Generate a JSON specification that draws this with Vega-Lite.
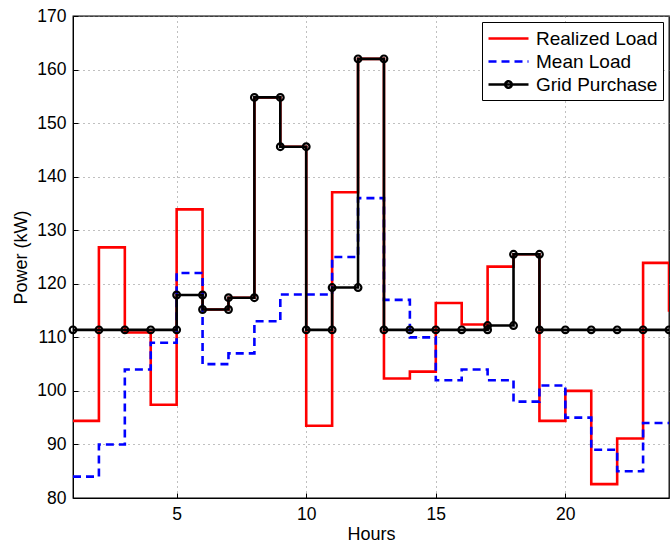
{
  "$schema": "https://vega.github.io/schema/vega-lite/v6.json",
  "width": 596,
  "height": 482,
  "autosize": {"type": "none"},
  "padding": {"left": 73, "top": 16, "right": 1, "bottom": 52},
  "background": "white",
  "config": {
    "font": "Liberation Sans",
    "view": {"stroke": "black", "strokeWidth": 1.3},
    "axis": {
      "domainColor": "black",
      "labelColor": "black",
      "titleColor": "black",
      "labelFontSize": 17.5,
      "titleFontSize": 18,
      "titleFontWeight": "normal",
      "gridColor": "#808080",
      "gridDash": [1, 4],
      "gridOpacity": 1,
      "gridWidth": 1,
      "ticks": true,
      "tickColor": "black",
      "tickSize": -5,
      "tickWidth": 1
    }
  },
  "datasets": {
    "loads": [
      {"hour": 1, "series": "Realized Load", "power": 94.4},
      {"hour": 2, "series": "Realized Load", "power": 126.8},
      {"hour": 3, "series": "Realized Load", "power": 110.9},
      {"hour": 4, "series": "Realized Load", "power": 97.4},
      {"hour": 5, "series": "Realized Load", "power": 133.9},
      {"hour": 6, "series": "Realized Load", "power": 115.2},
      {"hour": 7, "series": "Realized Load", "power": 117.4},
      {"hour": 8, "series": "Realized Load", "power": 154.8},
      {"hour": 9, "series": "Realized Load", "power": 145.6},
      {"hour": 10, "series": "Realized Load", "power": 93.5},
      {"hour": 11, "series": "Realized Load", "power": 137.1},
      {"hour": 12, "series": "Realized Load", "power": 162.0},
      {"hour": 13, "series": "Realized Load", "power": 102.3},
      {"hour": 14, "series": "Realized Load", "power": 103.6},
      {"hour": 15, "series": "Realized Load", "power": 116.4},
      {"hour": 16, "series": "Realized Load", "power": 112.4},
      {"hour": 17, "series": "Realized Load", "power": 123.2},
      {"hour": 18, "series": "Realized Load", "power": 125.5},
      {"hour": 19, "series": "Realized Load", "power": 94.4},
      {"hour": 20, "series": "Realized Load", "power": 100.0},
      {"hour": 21, "series": "Realized Load", "power": 82.6},
      {"hour": 22, "series": "Realized Load", "power": 91.1},
      {"hour": 23, "series": "Realized Load", "power": 123.9},
      {"hour": 24, "series": "Realized Load", "power": 114.8},
      {"hour": 1, "series": "Mean Load", "power": 84},
      {"hour": 2, "series": "Mean Load", "power": 90},
      {"hour": 3, "series": "Mean Load", "power": 104},
      {"hour": 4, "series": "Mean Load", "power": 109},
      {"hour": 5, "series": "Mean Load", "power": 122},
      {"hour": 6, "series": "Mean Load", "power": 105},
      {"hour": 7, "series": "Mean Load", "power": 107},
      {"hour": 8, "series": "Mean Load", "power": 113},
      {"hour": 9, "series": "Mean Load", "power": 118},
      {"hour": 10, "series": "Mean Load", "power": 118},
      {"hour": 11, "series": "Mean Load", "power": 125},
      {"hour": 12, "series": "Mean Load", "power": 136},
      {"hour": 13, "series": "Mean Load", "power": 117},
      {"hour": 14, "series": "Mean Load", "power": 110},
      {"hour": 15, "series": "Mean Load", "power": 102},
      {"hour": 16, "series": "Mean Load", "power": 104},
      {"hour": 17, "series": "Mean Load", "power": 102},
      {"hour": 18, "series": "Mean Load", "power": 98},
      {"hour": 19, "series": "Mean Load", "power": 101},
      {"hour": 20, "series": "Mean Load", "power": 95},
      {"hour": 21, "series": "Mean Load", "power": 89},
      {"hour": 22, "series": "Mean Load", "power": 85},
      {"hour": 23, "series": "Mean Load", "power": 94},
      {"hour": 24, "series": "Mean Load", "power": 94},
      {"hour": 1, "series": "Grid Purchase", "power": 111.4},
      {"hour": 2, "series": "Grid Purchase", "power": 111.4},
      {"hour": 3, "series": "Grid Purchase", "power": 111.4},
      {"hour": 4, "series": "Grid Purchase", "power": 111.4},
      {"hour": 5, "series": "Grid Purchase", "power": 117.9},
      {"hour": 6, "series": "Grid Purchase", "power": 115.2},
      {"hour": 7, "series": "Grid Purchase", "power": 117.4},
      {"hour": 8, "series": "Grid Purchase", "power": 154.8},
      {"hour": 9, "series": "Grid Purchase", "power": 145.6},
      {"hour": 10, "series": "Grid Purchase", "power": 111.4},
      {"hour": 11, "series": "Grid Purchase", "power": 119.3},
      {"hour": 12, "series": "Grid Purchase", "power": 162.0},
      {"hour": 13, "series": "Grid Purchase", "power": 111.4},
      {"hour": 14, "series": "Grid Purchase", "power": 111.4},
      {"hour": 15, "series": "Grid Purchase", "power": 111.4},
      {"hour": 16, "series": "Grid Purchase", "power": 111.4},
      {"hour": 17, "series": "Grid Purchase", "power": 112.2},
      {"hour": 18, "series": "Grid Purchase", "power": 125.5},
      {"hour": 19, "series": "Grid Purchase", "power": 111.4},
      {"hour": 20, "series": "Grid Purchase", "power": 111.4},
      {"hour": 21, "series": "Grid Purchase", "power": 111.4},
      {"hour": 22, "series": "Grid Purchase", "power": 111.4},
      {"hour": 23, "series": "Grid Purchase", "power": 111.4},
      {"hour": 24, "series": "Grid Purchase", "power": 111.4}
    ],
    "markers": [
      {"hour": 1, "power": 111.4}, {"hour": 2, "power": 111.4}, {"hour": 3, "power": 111.4},
      {"hour": 4, "power": 111.4}, {"hour": 5, "power": 111.4}, {"hour": 5, "power": 117.9},
      {"hour": 6, "power": 117.9}, {"hour": 6, "power": 115.2}, {"hour": 7, "power": 115.2},
      {"hour": 7, "power": 117.4}, {"hour": 8, "power": 117.4}, {"hour": 8, "power": 154.8},
      {"hour": 9, "power": 154.8}, {"hour": 9, "power": 145.6}, {"hour": 10, "power": 145.6},
      {"hour": 10, "power": 111.4}, {"hour": 11, "power": 111.4}, {"hour": 11, "power": 119.3},
      {"hour": 12, "power": 119.3}, {"hour": 12, "power": 162.0}, {"hour": 13, "power": 162.0},
      {"hour": 13, "power": 111.4}, {"hour": 14, "power": 111.4}, {"hour": 15, "power": 111.4},
      {"hour": 16, "power": 111.4}, {"hour": 17, "power": 111.4}, {"hour": 17, "power": 112.2},
      {"hour": 18, "power": 112.2}, {"hour": 18, "power": 125.5}, {"hour": 19, "power": 125.5},
      {"hour": 19, "power": 111.4}, {"hour": 20, "power": 111.4}, {"hour": 21, "power": 111.4},
      {"hour": 22, "power": 111.4}, {"hour": 23, "power": 111.4}, {"hour": 24, "power": 111.4}
    ]
  },
  "layer": [
    {
      "data": {"name": "loads"},
      "mark": {"type": "line", "interpolate": "step-after", "strokeWidth": 2.6, "clip": true},
      "encoding": {
        "x": {
          "field": "hour", "type": "quantitative",
          "scale": {"domain": [1, 24], "nice": false, "zero": false},
          "axis": {"values": [5, 10, 15, 20], "title": "Hours", "grid": true, "labelPadding": 12, "titlePadding": 3}
        },
        "y": {
          "field": "power", "type": "quantitative",
          "scale": {"domain": [80, 170], "nice": false, "zero": false},
          "axis": {"values": [80, 90, 100, 110, 120, 130, 140, 150, 160, 170], "title": "Power (kW)", "grid": true, "labelPadding": 12, "titlePadding": 6}
        },
        "color": {
          "field": "series", "type": "nominal",
          "scale": {"domain": ["Realized Load", "Mean Load", "Grid Purchase"], "range": ["#ff0000", "#0000ff", "#000000"]},
          "legend": {
            "title": null,
            "orient": "top-right",
            "offset": 6,
            "strokeColor": "black",
            "fillColor": "white",
            "padding": 5,
            "labelFontSize": 19,
            "labelColor": "black",
            "symbolType": "M-2,0H2",
            "symbolSize": 400,
            "symbolStrokeWidth": 2.6,
            "symbolOffset": 10,
            "labelOffset": 16,
            "rowPadding": 1,
            "encode": {
              "symbols": {
                "update": {
                  "shape": {"signal": "datum.value === 'Grid Purchase' ? 'M-2,0H2M0.32,0A0.32,0.32 0 1,1 -0.32,0A0.32,0.32 0 1,1 0.32,0' : 'M-2,0H2'"}
                }
              }
            }
          }
        },
        "strokeDash": {
          "field": "series", "type": "nominal",
          "scale": {"domain": ["Realized Load", "Mean Load", "Grid Purchase"], "range": [[1, 0], [8, 5], [1, 0]]},
          "legend": null
        }
      }
    },
    {
      "data": {"name": "markers"},
      "mark": {"type": "point", "shape": "circle", "filled": false, "stroke": "black", "strokeWidth": 2.2, "size": 45, "opacity": 1},
      "encoding": {
        "x": {"field": "hour", "type": "quantitative"},
        "y": {"field": "power", "type": "quantitative"}
      }
    }
  ]
}
